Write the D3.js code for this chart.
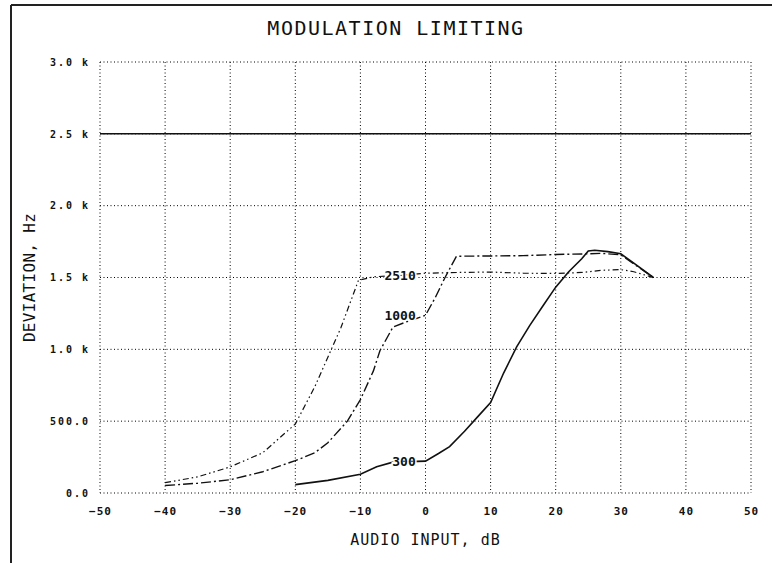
<!DOCTYPE html>
<html lang="en">
<head>
	<meta charset="utf-8">
	<script src="https://d3js.org/d3.v7.min.js"></script>
	<style>
		body { margin: 0; background: #fff; }
		text { fill: #111; }
	</style>
</head>
<body>
<div id="chart"></div>
<script>

// ---- data ----
var xTicks = [-50, -40, -30, -20, -10, 0, 10, 20, 30, 40, 50];
var yTicks = [0, 500, 1000, 1500, 2000, 2500, 3000];
var yTickLabels = ["0.0", "500.0", "1.0 k", "1.5 k", "2.0 k", "2.5 k", "3.0 k"];
var limitHz = [2500];

var dB300 = [-20, -15, -10, -7.5, -5, 0, 2, 3.7, 6, 8, 10, 12, 14, 16, 18, 20, 22, 24, 25, 26, 28, 30, 32, 35];
var hz300 = [58, 88, 130, 182, 215, 222, 275, 323, 430, 530, 630, 835, 1017, 1165, 1300, 1433, 1540, 1630, 1685, 1690, 1680, 1665, 1600, 1500];

var dB1000 = [-40, -35, -30, -25, -20, -17, -15, -12, -10, -8, -7, -5, -3, 0, 1.5, 3, 4.75, 10, 15, 20, 25, 27, 30, 35];
var hz1000 = [52, 68, 92, 148, 225, 280, 350, 500, 650, 850, 990, 1155, 1190, 1237, 1360, 1500, 1648, 1650, 1652, 1660, 1665, 1668, 1658, 1500];

var dB2510 = [-40, -35, -30, -25, -20, -17, -15, -13, -10.3, -8, -4, 0, 5, 10, 15, 20, 24, 27, 30, 32, 35];
var hz2510 = [72, 112, 182, 280, 480, 740, 945, 1150, 1480, 1505, 1515, 1530, 1535, 1538, 1530, 1528, 1535, 1550, 1555, 1540, 1500];

var curveNames = ["300", "1000", "2510"];
var labelHz = [220, 1235, 1515];
var labelDb = -1.5;

// ---- layout ----
var W = 772, H = 563;
var margin = {top: 62, right: 21, bottom: 70, left: 100},
  width = W - margin.left - margin.right,
  height = H - margin.top - margin.bottom;

var svg = d3.select("#chart")
  .append("svg")
    .attr("width", W)
    .attr("height", H)
    .style("font-family", "'DejaVu Sans Mono', monospace");

// page frame (left and top edges only)
svg.append("line").attr("x1", 11).attr("x2", 11).attr("y1", 5).attr("y2", H)
  .attr("stroke", "#222").attr("stroke-width", 2);
svg.append("line").attr("x1", 11).attr("x2", W).attr("y1", 5).attr("y2", 5)
  .attr("stroke", "#222").attr("stroke-width", 2);

var g = svg.append("g")
  .attr("transform", "translate(" + margin.left + "," + margin.top + ")");

var x = d3.scaleLinear().domain([-50, 50]).range([0, width]);
var y = d3.scaleLinear().domain([0, 3000]).range([height, 0]);

// dotted grid
g.append("g")
  .selectAll("line")
  .data(xTicks)
  .join("line")
    .attr("x1", function(d) { return x(d); })
    .attr("x2", function(d) { return x(d); })
    .attr("y1", 0)
    .attr("y2", height)
    .attr("stroke", "#000")
    .attr("stroke-width", 1)
    .attr("stroke-dasharray", "1,2.5");

g.append("g")
  .selectAll("line")
  .data(yTicks)
  .join("line")
    .attr("x1", 0)
    .attr("x2", width)
    .attr("y1", function(d) { return y(d); })
    .attr("y2", function(d) { return y(d); })
    .attr("stroke", "#000")
    .attr("stroke-width", 1)
    .attr("stroke-dasharray", "1,2.5");

// solid limit line at 2.5 k
g.selectAll(".limit")
  .data(limitHz)
  .join("line")
    .attr("class", "limit")
    .attr("x1", 0)
    .attr("x2", width)
    .attr("y1", function(d) { return y(d); })
    .attr("y2", function(d) { return y(d); })
    .attr("stroke", "#111")
    .attr("stroke-width", 1.5);

// axes (labels only)
var xAxis = g.append("g")
  .attr("transform", "translate(0," + height + ")")
  .call(d3.axisBottom(x).tickValues(xTicks).tickSize(0).tickPadding(14));
xAxis.select(".domain").remove();
xAxis.selectAll("text")
  .style("font-family", "'DejaVu Sans Mono', monospace")
  .style("font-size", "11px")
  .style("font-weight", "bold")
  .style("letter-spacing", "1px")
  .attr("fill", "#111");

var yAxis = g.append("g")
  .call(d3.axisLeft(y).tickValues(yTicks).tickSize(0).tickPadding(10)
    .tickFormat(function(d, i) { return yTickLabels[i]; }));
yAxis.select(".domain").remove();
yAxis.selectAll("text")
  .style("font-family", "'DejaVu Sans Mono', monospace")
  .style("font-size", "10px")
  .style("font-weight", "bold")
  .style("letter-spacing", "2px")
  .attr("fill", "#111");

// curves
var series = [
  {name: "300", xs: dB300, ys: hz300, dash: null, w: 1.6},
  {name: "1000", xs: dB1000, ys: hz1000, dash: "10,3,2,3", w: 1.4},
  {name: "2510", xs: dB2510, ys: hz2510, dash: "6,3,1.5,3,1.5,3", w: 1.2}
];

var line = d3.line()
  .x(function(d) { return x(d[0]); })
  .y(function(d) { return y(d[1]); });

g.selectAll(".curve")
  .data(series)
  .join("path")
    .attr("class", "curve")
    .attr("d", function(s) { return line(d3.zip(s.xs, s.ys)); })
    .attr("fill", "none")
    .attr("stroke", "#111")
    .attr("stroke-width", function(s) { return s.w; })
    .attr("stroke-dasharray", function(s) { return s.dash; });

// curve labels
g.selectAll(".clabel")
  .data(curveNames)
  .join("text")
    .attr("class", "clabel")
    .attr("x", x(labelDb))
    .attr("y", function(d, i) { return y(labelHz[i]); })
    .attr("dy", "0.35em")
    .attr("text-anchor", "end")
    .style("font-size", "13px")
    .style("font-weight", "bold")
    .style("paint-order", "stroke")
    .attr("stroke", "#fff")
    .attr("stroke-width", 3)
    .text(function(d) { return d; });

// titles
svg.append("text")
  .attr("x", 396)
  .attr("y", 35)
  .attr("text-anchor", "middle")
  .style("font-size", "20px")
  .style("letter-spacing", "1.5px")
  .text("MODULATION LIMITING");

svg.append("text")
  .attr("x", margin.left + width / 2)
  .attr("y", 545)
  .attr("text-anchor", "middle")
  .style("font-size", "15px")
  .style("letter-spacing", "1px")
  .text("AUDIO INPUT, dB");

svg.append("text")
  .attr("transform", "translate(35," + (margin.top + height / 2) + ") rotate(-90)")
  .attr("text-anchor", "middle")
  .style("font-size", "16px")
  .style("letter-spacing", "0.3px")
  .text("DEVIATION, Hz");

</script>
</body>
</html>
